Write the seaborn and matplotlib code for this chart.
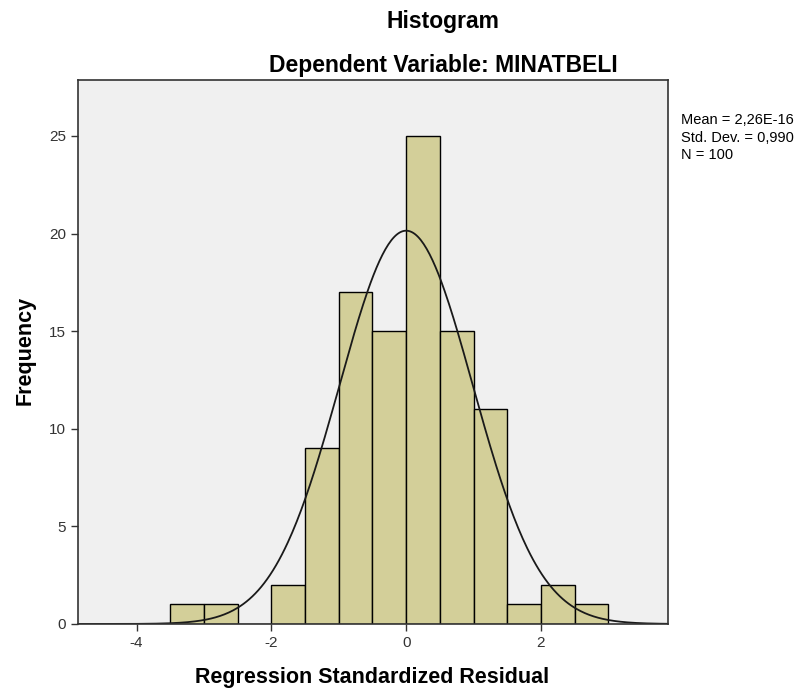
import numpy as np
import pandas as pd
import matplotlib
matplotlib.use("Agg")
import matplotlib.pyplot as plt
import seaborn as sns

# bins (width 0.5)
bin_edges = [-3.5, -3.0, -2.5, -2.0, -1.5, -1.0, -0.5, 0.0, 0.5, 1.0, 1.5, 2.0, 2.5, 3.0]
counts = [1, 1, 0, 2, 9, 17, 15, 25, 15, 11, 1, 2, 1]
mean = 2.26e-16
std_dev = 0.990
n_obs = 100
x_ticks = [-4, -2, 0, 2]
y_ticks = [0, 5, 10, 15, 20, 25]

sns.set_style("white")
plt.rcParams["font.family"] = ["Liberation Sans", "DejaVu Sans"]
plt.rcParams["axes.unicode_minus"] = False
plt.rcParams["text.color"] = "black"

centers = [(a + b) / 2 for a, b in zip(bin_edges[:-1], bin_edges[1:])]
df = pd.DataFrame({"residual": centers, "count": counts})

fig = plt.figure(figsize=(8, 6.93), dpi=100)
ax = fig.add_axes([0.0975, 0.0996, 0.737, 0.785])
ax.set_facecolor("#f0f0f0")

sns.histplot(
    data=df,
    x="residual",
    weights="count",
    bins=bin_edges,
    color="#d3cf99",
    edgecolor="black",
    linewidth=1.0,
    alpha=1.0,
    ax=ax,
)

# fitted normal curve scaled to counts
bw = bin_edges[1] - bin_edges[0]
xs = np.linspace(-4.87, 3.88, 400)
ys = n_obs * bw / (std_dev * np.sqrt(2 * np.pi)) * np.exp(-0.5 * ((xs - mean) / std_dev) ** 2)
sns.lineplot(x=xs, y=ys, color="#1a1a1a", linewidth=1.3, ax=ax)

ax.set_xlim(-4.87, 3.88)
ax.set_ylim(0, 27.87)
ax.set_xticks(x_ticks)
ax.set_yticks(y_ticks)
ax.tick_params(axis="both", direction="out", length=5, width=1, color="#333333",
               labelsize=11, labelcolor="#333333", bottom=True, left=True)
for s in ax.spines.values():
    s.set_color("#333333")
    s.set_linewidth(1.2)

ax.set_xlabel("")
ax.set_ylabel("")
fig.text(0.465, 1 - 677 / 693, "Regression Standardized Residual", ha="center", va="center",
         fontsize=15.5, fontweight="bold")
fig.text(25 / 800, 1 - 350 / 693, "Frequency", ha="center", va="center", rotation=90,
         fontsize=15.5, fontweight="bold")

fig.text(443 / 800, 1 - 28 / 693, "Histogram", ha="center", va="baseline",
         fontsize=16.5, fontweight="bold")
fig.text(443 / 800, 1 - 72 / 693, "Dependent Variable: MINATBELI", ha="center", va="baseline",
         fontsize=16.5, fontweight="bold")
fig.text(681 / 800, 1 - 113 / 693, "Mean = 2,26E-16\nStd. Dev. = 0,990\nN = 100",
         ha="left", va="top", fontsize=10.5, linespacing=1.32)

fig.savefig("out.png", dpi=100)
